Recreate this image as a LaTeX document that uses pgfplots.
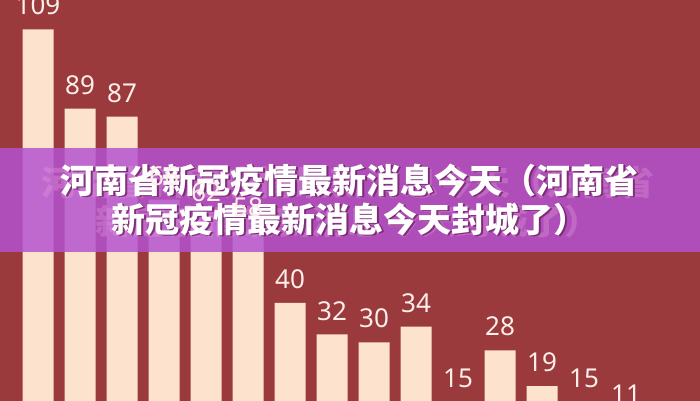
\documentclass[border=0pt]{standalone}
\usepackage{pgfplots}
\pgfplotsset{compat=1.18}
\usepackage{fontspec}
\setmainfont{Noto Sans}
\newfontfamily\cjk{Noto Sans CJK SC}
\definecolor{bg}{RGB}{155,58,60}
\definecolor{cream}{RGB}{253,227,205}
\definecolor{lbl}{RGB}{252,238,232}
\definecolor{band}{RGB}{180,82,208}
\definecolor{shadow}{RGB}{110,35,100}
\definecolor{ghost}{RGB}{232,160,225}
\begin{document}
\begin{tikzpicture}
\begin{axis}[
  width=700pt, height=461.3pt, scale only axis,
  xmin=0.095, xmax=16.762, ymin=0, ymax=116.4,
  axis line style={draw=none}, ticks=none,
  axis background/.style={fill=bg},
  clip=true,
  /pgf/number format/assume math mode=true,
]
\addplot[ybar, bar width=31pt, fill=cream, draw=none,
  nodes near coords,
  every node near coord/.append style={font=\fontsize{26}{26}\selectfont, text=lbl, anchor=south, inner sep=0pt, yshift=14pt}]
coordinates {(1,109)(2,89)(3,87)(4,66)(5,62)(6,58)(7,40)(8,32)(9,30)(10,34)(11,15)(12,28)(13,19)(14,15)(15,11)};
\fill[band, opacity=0.84] (axis cs:0.095,52.8) rectangle (axis cs:16.762,79.0);
\node[text=ghost, opacity=0.32, xscale=1.06, font=\cjk\bfseries\fontsize{34}{34}\selectfont] at ([xshift=-2pt,yshift=-2pt]axis cs:8.428,70.9) {河南省新冠疫情最新消息今天（河南省};
\node[text=shadow, opacity=0.8, font=\cjk\bfseries\fontsize{34}{34}\selectfont] at ([xshift=1.2pt,yshift=-1.2pt]axis cs:8.428,70.9) {河南省新冠疫情最新消息今天（河南省};
\node[text=white, font=\cjk\bfseries\fontsize{34}{34}\selectfont] at (axis cs:8.428,70.9) {河南省新冠疫情最新消息今天（河南省};
\node[text=ghost, opacity=0.32, xscale=1.06, font=\cjk\bfseries\fontsize{34}{34}\selectfont] at ([xshift=-2pt,yshift=-2pt]axis cs:8.428,61.0) {新冠疫情最新消息今天封城了）};
\node[text=shadow, opacity=0.8, font=\cjk\bfseries\fontsize{34}{34}\selectfont] at ([xshift=1.2pt,yshift=-1.2pt]axis cs:8.428,61.0) {新冠疫情最新消息今天封城了）};
\node[text=white, font=\cjk\bfseries\fontsize{34}{34}\selectfont] at (axis cs:8.428,61.0) {新冠疫情最新消息今天封城了）};
\end{axis}
\pgfresetboundingbox
\useasboundingbox ([yshift=-400pt]current axis.north west) rectangle (current axis.north east);
\end{tikzpicture}
\end{document}
